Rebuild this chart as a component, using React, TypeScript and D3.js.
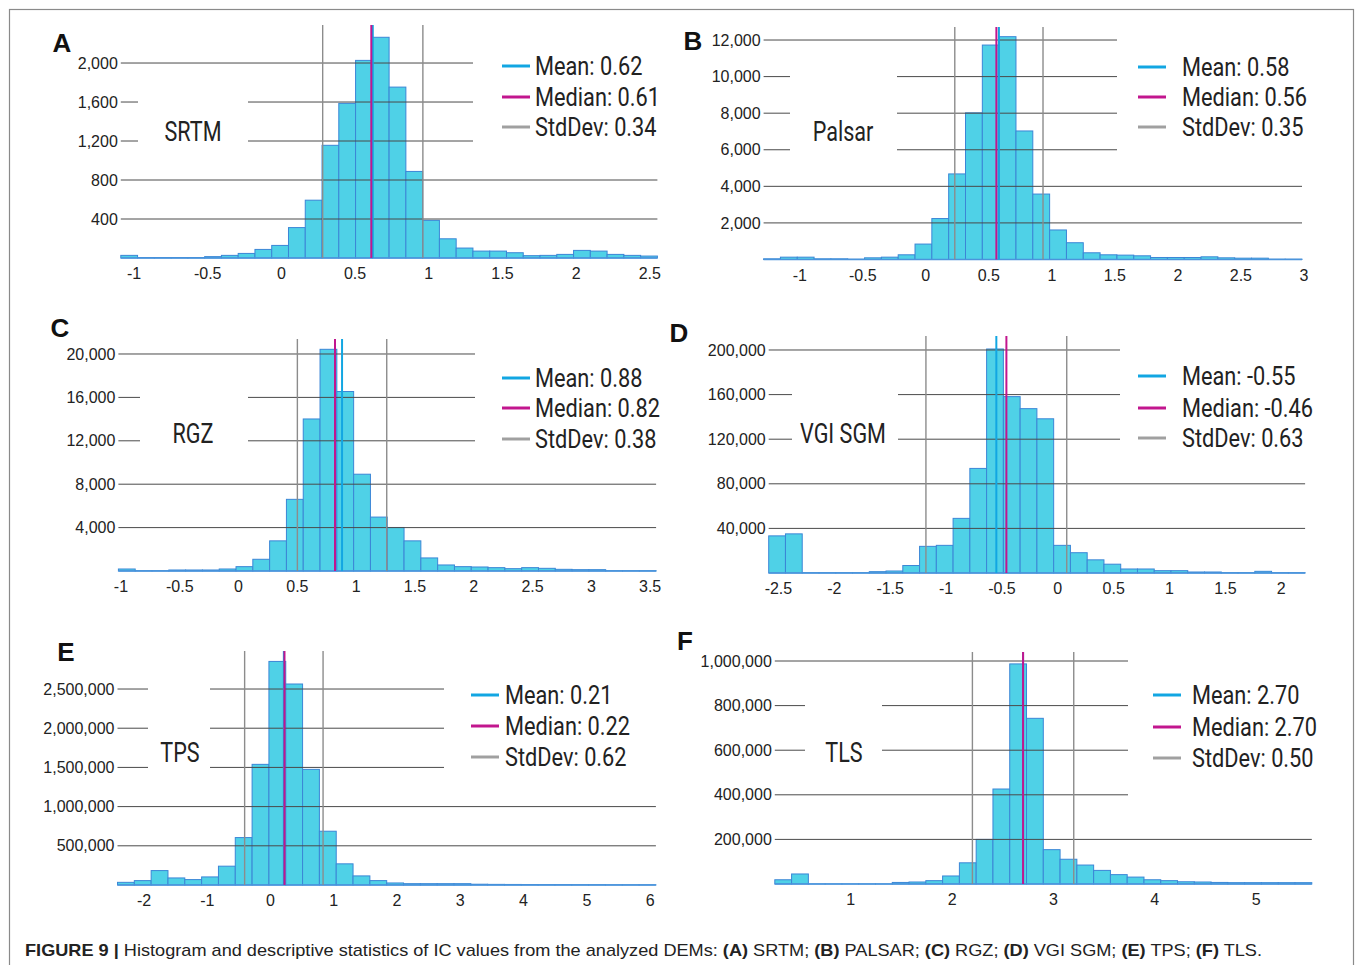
import React from "react";
import * as d3 from "d3";

// bin counts (32 equal-width bins per panel)
const srtmCounts = [27, 5, 5, 5, 5, 14, 27, 47, 88, 129, 312, 593, 1156, 1586, 2027, 2264, 1753, 888, 386, 197, 102, 71, 71, 54, 24, 27, 37, 78, 71, 37, 27, 20];
const palsarCounts = [37, 128, 128, 37, 37, 18, 92, 128, 257, 844, 2239, 4679, 8018, 11725, 12183, 7028, 3578, 1615, 917, 367, 257, 239, 202, 110, 110, 110, 147, 92, 73, 73, 18, 18];
const rgzCounts = [185, 31, 31, 93, 93, 93, 185, 401, 1080, 2778, 6605, 14012, 20432, 16543, 8920, 4969, 4012, 2778, 1204, 556, 401, 370, 309, 216, 309, 247, 154, 123, 123, 31, 31, 31];
const vgiCounts = [33300, 35100, 300, 300, 300, 300, 1200, 1800, 6700, 23900, 24800, 49000, 93800, 200900, 158200, 147400, 138300, 24800, 18200, 11800, 7900, 3600, 3600, 2100, 2100, 900, 900, 300, 300, 1500, 300, 300];
const tpsCounts = [34000, 56000, 184000, 90000, 69000, 103000, 240000, 605000, 1539000, 2852000, 2564000, 1475000, 686000, 270000, 116000, 56000, 26000, 17000, 17000, 17000, 17000, 10000, 8000, 7000, 6000, 5000, 5000, 4000, 4000, 3000, 3000, 3000];
const tlsCounts = [19000, 45000, 500, 500, 500, 500, 500, 7000, 9000, 15000, 36000, 95000, 200000, 426000, 987000, 743000, 154000, 111000, 85000, 61000, 42000, 31000, 19000, 15000, 10000, 9000, 7000, 6000, 6000, 6000, 6000, 6000];

// first bin edge, bin width
const srtmBin = [-1.09, 0.1138];
const palsarBin = [-1.287, 0.1335];
const rgzBin = [-1.022, 0.1429];
const vgiBin = [-2.587, 0.15];
const tpsBin = [-2.42, 0.266];
const tlsBin = [0.25, 0.1656];

// mean, median, std dev
const srtmStats = [0.62, 0.61, 0.34];
const palsarStats = [0.58, 0.56, 0.35];
const rgzStats = [0.88, 0.82, 0.38];
const vgiStats = [-0.55, -0.46, 0.63];
const tpsStats = [0.21, 0.22, 0.62];
const tlsStats = [2.7, 2.7, 0.5];

const srtmYTicks = [400, 800, 1200, 1600, 2000];
const palsarYTicks = [2000, 4000, 6000, 8000, 10000, 12000];
const rgzYTicks = [4000, 8000, 12000, 16000, 20000];
const vgiYTicks = [40000, 80000, 120000, 160000, 200000];
const tpsYTicks = [500000, 1000000, 1500000, 2000000, 2500000];
const tlsYTicks = [200000, 400000, 600000, 800000, 1000000];

const srtmXTicks = [-1, -0.5, 0, 0.5, 1, 1.5, 2, 2.5];
const palsarXTicks = [-1, -0.5, 0, 0.5, 1, 1.5, 2, 2.5, 3];
const rgzXTicks = [-1, -0.5, 0, 0.5, 1, 1.5, 2, 2.5, 3, 3.5];
const vgiXTicks = [-2.5, -2, -1.5, -1, -0.5, 0, 0.5, 1, 1.5, 2];
const tpsXTicks = [-2, -1, 0, 1, 2, 3, 4, 5, 6];
const tlsXTicks = [1, 2, 3, 4, 5];

const panels = [
  {
    letter: "A", name: "SRTM", counts: srtmCounts, bin: srtmBin, stats: srtmStats,
    yTicks: srtmYTicks, xTicks: srtmXTicks, yMax: 2390,
    left: 120.8, right: 657.4, top: 25, bottom: 258,
    letterPos: [62, 52], namePos: [193, 141],
    gapTicks: [1600, 1200], gap: [138, 248],
    legendTicks: [2000, 1600, 1200], legendStop: 473,
    legendX: 502, legendGap: 5, legendYs: [66, 97, 127],
  },
  {
    letter: "B", name: "Palsar", counts: palsarCounts, bin: palsarBin, stats: palsarStats,
    yTicks: palsarYTicks, xTicks: palsarXTicks, yMax: 12712,
    left: 763.6, right: 1302, top: 27, bottom: 259.5,
    letterPos: [693, 50], namePos: [843, 141],
    gapTicks: [10000, 8000, 6000], gap: [790, 897],
    legendTicks: [12000, 10000, 8000, 6000], legendStop: 1117,
    legendX: 1138, legendGap: 16, legendYs: [67, 97, 127],
  },
  {
    letter: "C", name: "RGZ", counts: rgzCounts, bin: rgzBin, stats: rgzStats,
    yTicks: rgzYTicks, xTicks: rgzXTicks, yMax: 21382,
    left: 118.4, right: 656.1, top: 339, bottom: 571,
    letterPos: [60, 337], namePos: [193, 443],
    gapTicks: [16000, 12000], gap: [140, 248],
    legendTicks: [20000, 16000, 12000], legendStop: 475,
    legendX: 502, legendGap: 5, legendYs: [378, 408, 439],
  },
  {
    letter: "D", name: "VGI SGM", counts: vgiCounts, bin: vgiBin, stats: vgiStats,
    yTicks: vgiYTicks, xTicks: vgiXTicks, yMax: 212556,
    left: 768.7, right: 1305.1, top: 336, bottom: 573,
    letterPos: [679, 342], namePos: [843, 443],
    gapTicks: [160000, 120000], gap: [792, 898],
    legendTicks: [200000, 160000, 120000], legendStop: 1120,
    legendX: 1138, legendGap: 16, legendYs: [376, 408, 438],
  },
  {
    letter: "E", name: "TPS", counts: tpsCounts, bin: tpsBin, stats: tpsStats,
    yTicks: tpsYTicks, xTicks: tpsXTicks, yMax: 2985000,
    left: 117.5, right: 655.9, top: 651, bottom: 885,
    letterPos: [66, 661], namePos: [180, 762],
    gapTicks: [2500000, 2000000, 1500000], gap: [148, 210],
    legendTicks: [2500000, 2000000, 1500000], legendStop: 444,
    legendX: 471, legendGap: 6, legendYs: [695, 726, 757],
  },
  {
    letter: "F", name: "TLS", counts: tlsCounts, bin: tlsBin, stats: tlsStats,
    yTicks: tlsYTicks, xTicks: tlsXTicks, yMax: 1040400,
    left: 774.8, right: 1311.8, top: 652, bottom: 884,
    letterPos: [685, 650], namePos: [844, 762],
    gapTicks: [800000, 600000], gap: [805, 882],
    legendTicks: [1000000, 800000, 600000, 400000], legendStop: 1128,
    legendX: 1153, legendGap: 11, legendYs: [695, 727, 758],
  },
];

const tickFont = "'Liberation Sans', Arial, Helvetica, sans-serif";
const condFont = "Roboto, 'Noto Sans', sans-serif";
const meanColor = "#12a6e2";
const medianColor = "#c2168e";
const sdColor = "#8c8c8c";
const gridColor = "#4a4a4a";

const Panel = ({ p }: { p: any }) => {
  const n = p.counts.length;
  const x = d3
    .scaleLinear()
    .domain([p.bin[0], p.bin[0] + p.bin[1] * n])
    .range([p.left, p.right]);
  const y = d3.scaleLinear().domain([0, p.yMax]).range([p.bottom, p.top]);
  const [mean, median, sd] = p.stats;
  const fmtY = d3.format(",");

  const legend = [
    { label: `Mean: ${mean.toFixed(2)}`, color: meanColor },
    { label: `Median: ${median.toFixed(2)}`, color: medianColor },
    { label: `StdDev: ${sd.toFixed(2)}`, color: "#a0a0a0" },
  ];

  return (
    <g>
      {/* bars */}
      {p.counts.map((c: number, i: number) => {
        const x0 = x(p.bin[0] + i * p.bin[1]);
        const x1 = x(p.bin[0] + (i + 1) * p.bin[1]);
        return (
          <rect
            key={i}
            x={x0}
            y={y(c)}
            width={x1 - x0}
            height={y(0) - y(c)}
            fill="#4fd1e7"
            stroke="#3b86d6"
            strokeWidth={1}
          />
        );
      })}
      <line x1={p.left} x2={p.right} y1={y(0)} y2={y(0)} stroke="#4b94dc" strokeWidth={1.5} />

      {/* grid lines, broken around the name label and the legend */}
      {p.yTicks.map((v: number) => {
        const end = p.legendTicks.includes(v) ? p.legendStop : p.right;
        const segs = p.gapTicks.includes(v)
          ? [[p.left, p.gap[0]], [p.gap[1], end]]
          : [[p.left, end]];
        return segs.map((s: number[], j: number) => (
          <line key={v + "-" + j} x1={s[0]} x2={s[1]} y1={y(v)} y2={y(v)} stroke={gridColor} strokeWidth={1} />
        ));
      })}

      {/* std dev, mean, median */}
      {[mean - sd, mean + sd].map((v, i) => (
        <line key={i} x1={x(v)} x2={x(v)} y1={p.top} y2={p.bottom} stroke={sdColor} strokeWidth={1.4} />
      ))}
      <line x1={x(mean)} x2={x(mean)} y1={p.top} y2={p.bottom} stroke={meanColor} strokeWidth={2} />
      <line x1={x(median)} x2={x(median)} y1={p.top} y2={p.bottom} stroke={medianColor} strokeWidth={2} />

      {/* y tick labels */}
      {p.yTicks.map((v: number) => (
        <text key={v} x={p.left - 3} y={y(v)} dy="0.35em" textAnchor="end" fontFamily={tickFont} fontSize={16} fill="#222">
          {fmtY(v)}
        </text>
      ))}

      {/* x tick labels */}
      {p.xTicks.map((v: number) => (
        <text key={v} x={x(v)} y={p.bottom + 21} textAnchor="middle" fontFamily={tickFont} fontSize={16} fill="#222">
          {String(v)}
        </text>
      ))}

      {/* panel letter and name */}
      <text x={p.letterPos[0]} y={p.letterPos[1]} textAnchor="middle" fontFamily={tickFont} fontWeight="bold" fontSize={26} fill="#111">
        {p.letter}
      </text>
      <text
        transform={`translate(${p.namePos[0]},${p.namePos[1]}) scale(0.8,1)`}
        textAnchor="middle"
        fontFamily={condFont}
        fontSize={27}
        fill="#222"
      >
        {p.name}
      </text>

      {/* legend */}
      {legend.map((d, i) => (
        <g key={d.label}>
          <line x1={p.legendX} x2={p.legendX + 28} y1={p.legendYs[i]} y2={p.legendYs[i]} stroke={d.color} strokeWidth={3} />
          <text
            transform={`translate(${p.legendX + 28 + p.legendGap},${p.legendYs[i] + 9}) scale(0.87,1)`}
            fontFamily={condFont}
            fontSize={25}
            fill="#222"
          >
            {d.label}
          </text>
        </g>
      ))}
    </g>
  );
};

const App = () => {
  return (
    <svg
      width={1355}
      height={965}
      style={{ position: "absolute", left: 0, top: 0, background: "#fff" }}
    >
      <rect x={0} y={0} width={1355} height={965} fill="#fff" />
      <rect x={9.5} y={9.5} width={1344} height={1000} fill="none" stroke="#8a8a8a" strokeWidth={1.2} />
      {panels.map((p) => (
        <Panel key={p.letter} p={p} />
      ))}
      <text x={25} y={956} fontFamily={tickFont} fontSize={17} fill="#222" textLength={1237} lengthAdjust="spacingAndGlyphs">
        <tspan fontWeight="bold">FIGURE 9 |</tspan>
        <tspan> Histogram and descriptive statistics of IC values from the analyzed DEMs: </tspan>
        <tspan fontWeight="bold">(A)</tspan>
        <tspan> SRTM; </tspan>
        <tspan fontWeight="bold">(B)</tspan>
        <tspan> PALSAR; </tspan>
        <tspan fontWeight="bold">(C)</tspan>
        <tspan> RGZ; </tspan>
        <tspan fontWeight="bold">(D)</tspan>
        <tspan> VGI SGM; </tspan>
        <tspan fontWeight="bold">(E)</tspan>
        <tspan> TPS; </tspan>
        <tspan fontWeight="bold">(F)</tspan>
        <tspan> TLS.</tspan>
      </text>
    </svg>
  );
};

export default App;
